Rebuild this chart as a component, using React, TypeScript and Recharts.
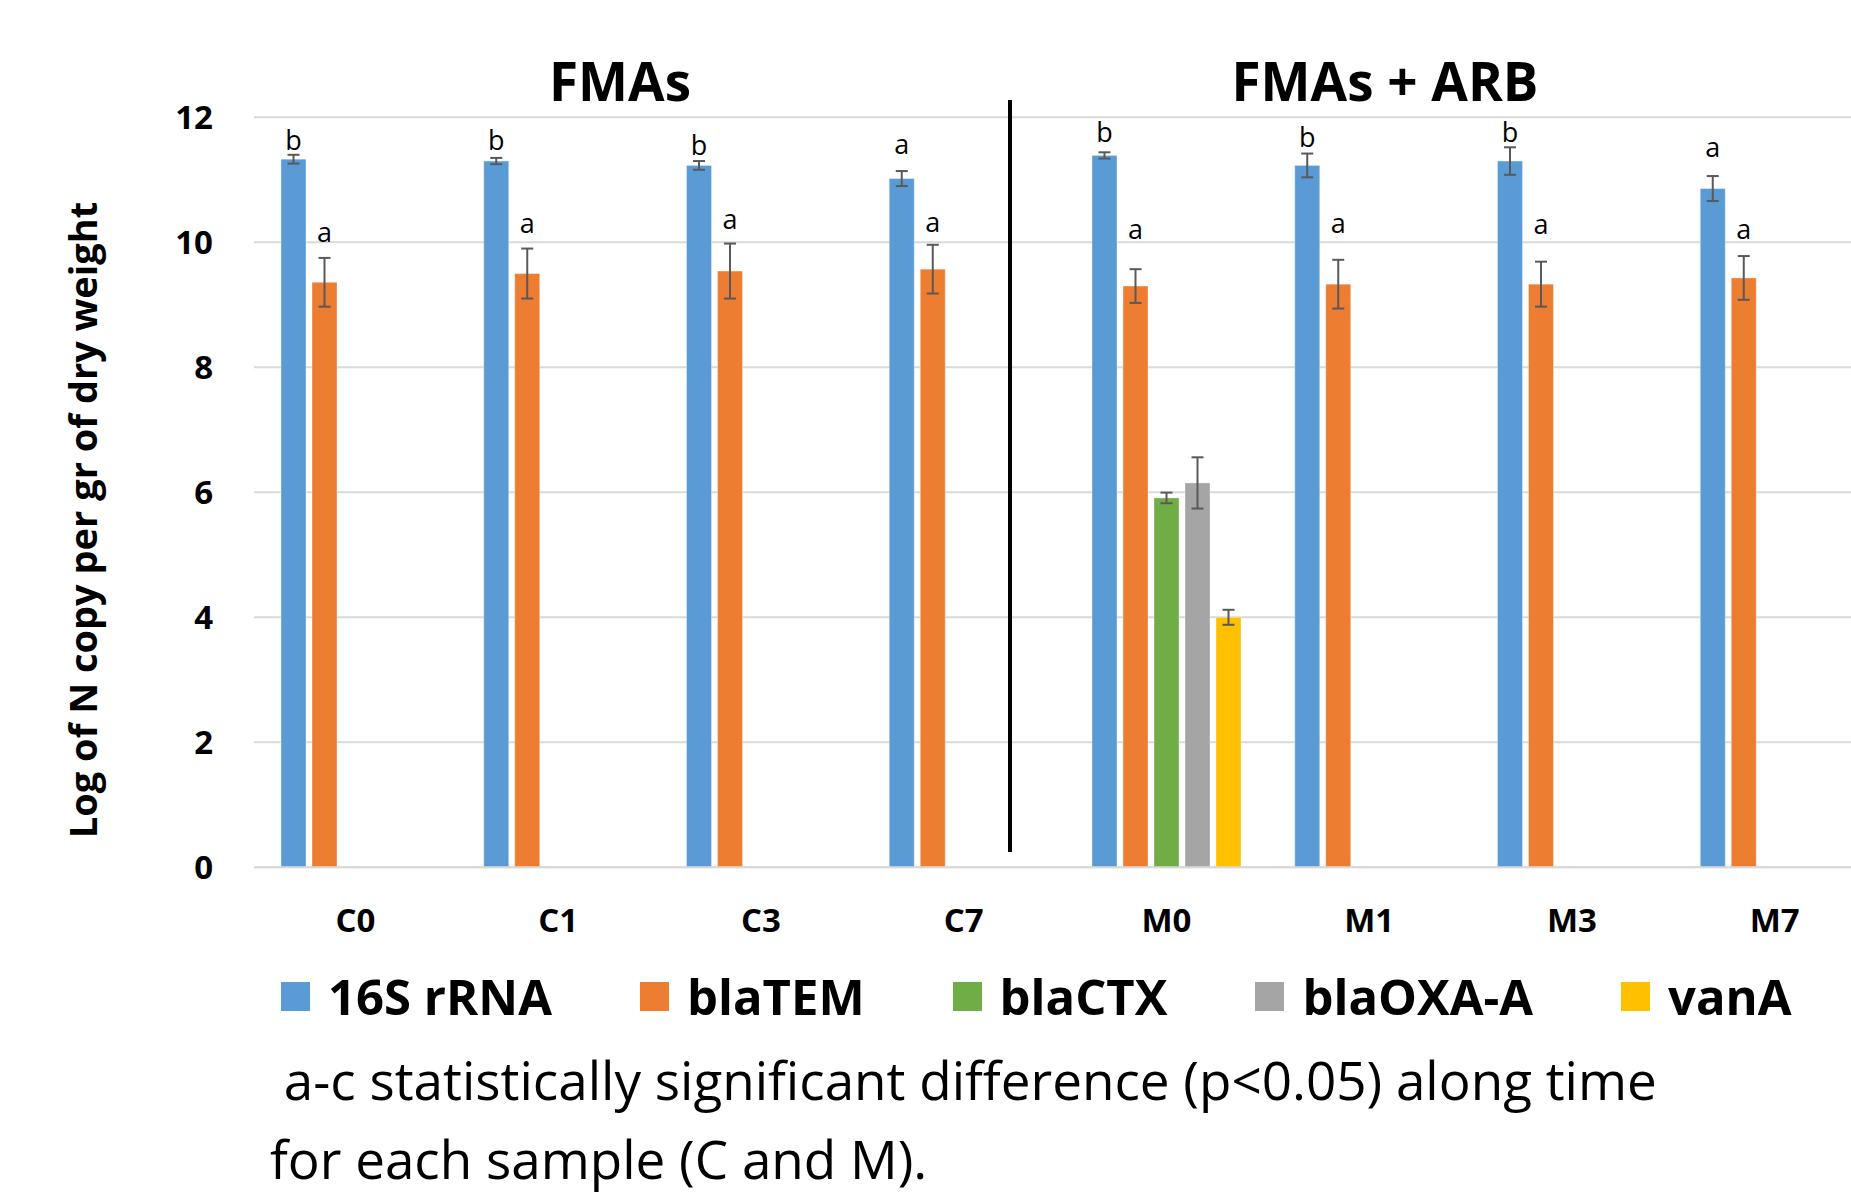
import React from 'react';
import { BarChart, Bar, XAxis, YAxis, CartesianGrid, ErrorBar } from 'recharts';

const categories = ['C0', 'C1', 'C3', 'C7', 'M0', 'M1', 'M3', 'M7'];

const rRNA16S = [11.33, 11.3, 11.23, 11.02, 11.39, 11.23, 11.3, 10.86];
const rRNA16SErr = [0.07, 0.05, 0.07, 0.12, 0.05, 0.19, 0.22, 0.2];
const blaTEM = [9.36, 9.5, 9.54, 9.57, 9.3, 9.33, 9.33, 9.43];
const blaTEMErr = [0.39, 0.4, 0.44, 0.39, 0.27, 0.39, 0.36, 0.35];
const blaCTX = [null, null, null, null, 5.91, null, null, null];
const blaCTXErr = [null, null, null, null, 0.085, null, null, null];
const blaOXA = [null, null, null, null, 6.15, null, null, null];
const blaOXAErr = [null, null, null, null, 0.41, null, null, null];
const vanA = [null, null, null, null, 4.0, null, null, null];
const vanAErr = [null, null, null, null, 0.12, null, null, null];

// significance letters and the height (baseline, in axis units) where they sit
const letters16S = ['b', 'b', 'b', 'a', 'b', 'b', 'b', 'a'];
const letters16SY = [11.48, 11.48, 11.39, 11.41, 11.6, 11.53, 11.61, 11.36];
const lettersTEM = ['a', 'a', 'a', 'a', 'a', 'a', 'a', 'a'];
const lettersTEMY = [10.0, 10.15, 10.22, 10.17, 10.05, 10.15, 10.13, 10.05];

const yTicks = [0, 2, 4, 6, 8, 10, 12];

const series = [
  { key: 'rRNA', name: '16S rRNA', color: '#5B9BD5' },
  { key: 'tem', name: 'blaTEM', color: '#ED7D31' },
  { key: 'ctx', name: 'blaCTX', color: '#70AD47' },
  { key: 'oxa', name: 'blaOXA-A', color: '#A5A5A5' },
  { key: 'van', name: 'vanA', color: '#FFC000' },
];

const data = categories.map((cat, i) => ({
  cat,
  rRNA: rRNA16S[i],
  rRNAErr: rRNA16SErr[i],
  rRNALetter: letters16S[i],
  rRNALetterY: letters16SY[i],
  tem: blaTEM[i],
  temErr: blaTEMErr[i],
  temLetter: lettersTEM[i],
  temLetterY: lettersTEMY[i],
  ctx: blaCTX[i],
  ctxErr: blaCTXErr[i],
  oxa: blaOXA[i],
  oxaErr: blaOXAErr[i],
  van: vanA[i],
  vanErr: vanAErr[i],
}));

const FONT = '"Open Sans", sans-serif';
const PLOT_LEFT = 254;
const PLOT_TOP = 117.3;
const PLOT_BOTTOM = 867.3;
const BAND = 202.7;
const CHART_W = Math.round(PLOT_LEFT + BAND * categories.length);
const CHART_H = 1199;
const X_AXIS_H = 60;

const letterShape = (key: string, color: string) => (props: any) => {
  const { x, y, width, height, payload } = props;
  const v = payload ? payload[key] : null;
  if (v == null || !height) return null;
  const letter = payload[key + 'Letter'];
  const ly = payload[key + 'LetterY'];
  const py = y + height - (ly / v) * height;
  return (
    <g>
      <rect x={x} y={y} width={width} height={height} fill={color} stroke="#ffffff" strokeOpacity={0.35} strokeWidth={1} />
      {letter && (
        <text x={x + width / 2} y={py} textAnchor="middle" fontSize={27} fontFamily={FONT} fill="#000">
          {letter}
        </text>
      )}
    </g>
  );
};

const App: React.FC = () => {
  return (
    <div style={{ position: 'absolute', left: 0, top: 0, width: 1851, height: 1199, overflow: 'hidden', background: '#fff', fontFamily: FONT }}>
      <BarChart
        width={CHART_W}
        height={CHART_H}
        data={data}
        margin={{ top: PLOT_TOP, right: 0, left: 0, bottom: CHART_H - PLOT_BOTTOM - X_AXIS_H }}
        barSize={25}
        barGap={6}
      >
        <CartesianGrid vertical={false} stroke="#d9d9d9" strokeWidth={2} />
        <XAxis
          dataKey="cat"
          height={X_AXIS_H}
          interval={0}
          tickLine={false}
          axisLine={{ stroke: '#d9d9d9', strokeWidth: 2 }}
          tickMargin={35}
          tick={{ fontSize: 33, fontWeight: 700, fill: '#000', fontFamily: FONT }}
        />
        <YAxis
          width={PLOT_LEFT}
          domain={[0, 12]}
          ticks={yTicks}
          allowDataOverflow
          axisLine={false}
          tickLine={false}
          tickMargin={35}
          tick={{ fontSize: 33, fontWeight: 700, fill: '#000', fontFamily: FONT }}
        />
        {series.map((s) => (
          <Bar
            key={s.key}
            dataKey={s.key}
            fill={s.color}
            isAnimationActive={false}
            shape={letterShape(s.key, s.color)}
          >
            <ErrorBar dataKey={s.key + 'Err'} direction="y" width={6} strokeWidth={2} stroke="#595959" />
          </Bar>
        ))}
      </BarChart>

      {/* group titles */}
      <div style={{ position: 'absolute', left: 620 - 80, top: 58, width: 160, height: 46, textAlign: 'center', fontSize: 53, fontWeight: 700, lineHeight: '46px', whiteSpace: 'nowrap' }}>
        FMAs
      </div>
      <div style={{ position: 'absolute', left: 1385 - 160, top: 58, width: 320, height: 46, textAlign: 'center', fontSize: 53, fontWeight: 700, lineHeight: '46px', whiteSpace: 'nowrap' }}>
        FMAs + ARB
      </div>

      {/* divider between groups */}
      <div style={{ position: 'absolute', left: PLOT_LEFT + BAND * 3.73 - 2, top: 100, width: 4, height: 752, background: '#000' }} />

      {/* y axis title */}
      <div
        style={{
          position: 'absolute',
          left: 82 - 400,
          top: 520 - 19,
          width: 800,
          height: 38,
          lineHeight: '38px',
          textAlign: 'center',
          fontSize: 38,
          fontWeight: 700,
          transform: 'rotate(-90deg)',
          whiteSpace: 'nowrap',
        }}
      >
        Log of N copy per gr of dry weight
      </div>

      {/* legend */}
      <div style={{ position: 'absolute', left: 281, top: 972, display: 'flex', alignItems: 'center', gap: 88 }}>
        {series.map((s) => (
          <div key={s.key} style={{ display: 'flex', alignItems: 'center' }}>
            <div style={{ width: 29, height: 29, background: s.color, marginRight: 18 }} />
            <span style={{ fontSize: 49, fontWeight: 700, lineHeight: 1, whiteSpace: 'nowrap' }}>{s.name}</span>
          </div>
        ))}
      </div>

      {/* footnote */}
      <div style={{ position: 'absolute', left: 270, top: 1040, fontSize: 53, lineHeight: '79px', whiteSpace: 'pre' }}>
        {' a-c statistically significant difference (p<0.05) along time\nfor each sample (C and M).'}
      </div>
    </div>
  );
};

export default App;
